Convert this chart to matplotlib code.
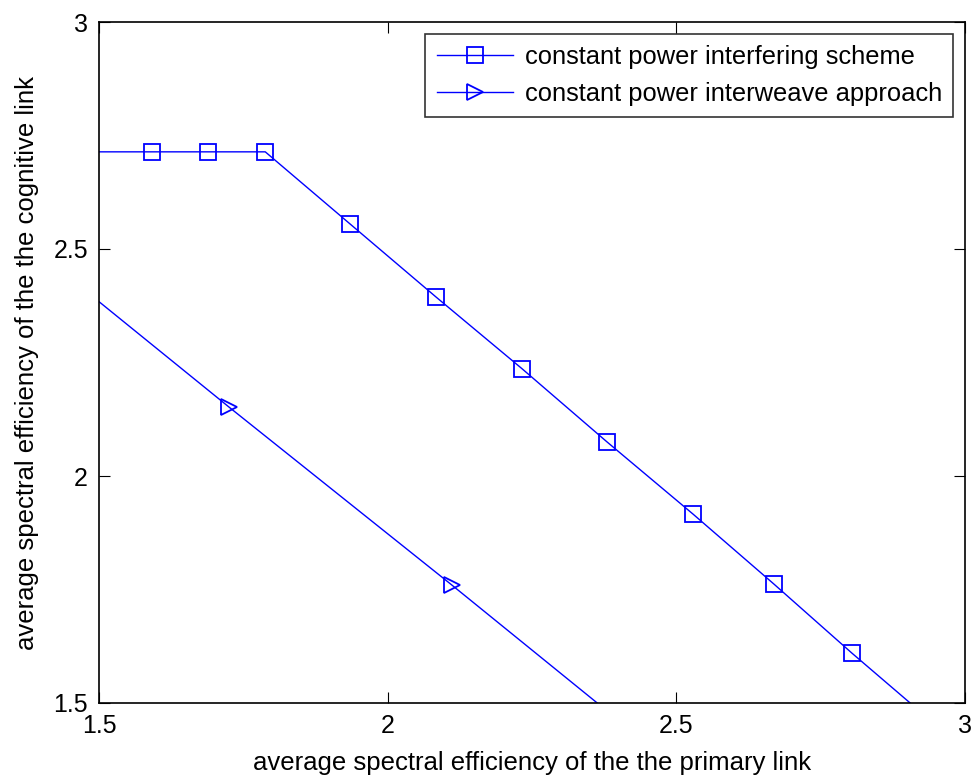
import numpy as np
import matplotlib
matplotlib.use('Agg')
import matplotlib.pyplot as plt

# constant power interfering scheme (line points, markers on all but the ends)
x_interf = [1.5, 1.592, 1.689, 1.788, 1.935, 2.084, 2.233, 2.380, 2.529, 2.669, 2.804, 2.905]
y_interf = [2.714, 2.714, 2.714, 2.714, 2.555, 2.394, 2.236, 2.075, 1.916, 1.762, 1.610, 1.5]

# constant power interweave approach
x_interw = [1.5, 1.725, 2.111, 2.363]
y_interw = [2.384, 2.152, 1.760, 1.5]

xticks = [1.5, 2, 2.5, 3]
yticks = [1.5, 2, 2.5, 3]

plt.rcParams['font.family'] = ['Liberation Sans', 'DejaVu Sans']

fig = plt.figure(figsize=(9.78, 7.82), dpi=100)
ax = fig.add_axes([99/978, 1 - 703/782, (965-99)/978, (703-22)/782])

ax.plot(x_interf, y_interf, color='#0000ff', lw=1, marker='s', markersize=12,
        markerfacecolor='none', markeredgewidth=1.3, markevery=list(range(1, 11)),
        label='constant power interfering scheme')
ax.plot(x_interw, y_interw, color='#0000ff', lw=1, marker='>', markersize=12,
        markerfacecolor='none', markeredgewidth=1.3, markevery=[1, 2],
        label='constant power interweave approach')

ax.set_xlim(1.5, 3)
ax.set_ylim(1.5, 3)
ax.set_xticks(xticks)
ax.set_yticks(yticks)
ax.set_xticklabels(['1.5', '2', '2.5', '3'])
ax.set_yticklabels(['1.5', '2', '2.5', '3'])
ax.tick_params(direction='in', top=True, right=True, length=8, labelsize=18)
ax.tick_params(axis='x', pad=8)
ax.tick_params(axis='y', pad=8)
for s in ax.spines.values():
    s.set_linewidth(1.2)

ax.set_xlabel('average spectral efficiency of the the primary link', fontsize=18.5, labelpad=9)
ax.set_ylabel('average spectral efficiency of the the cognitive link', fontsize=18.5, labelpad=10)

leg = ax.legend(loc='upper right', fontsize=18.4, frameon=True, fancybox=False,
                edgecolor='black', borderaxespad=0.45, handlelength=3,
                handletextpad=0.45, labelspacing=0.5, borderpad=0.45)
leg.get_frame().set_linewidth(1.2)

fig.savefig('out.png', dpi=100)
